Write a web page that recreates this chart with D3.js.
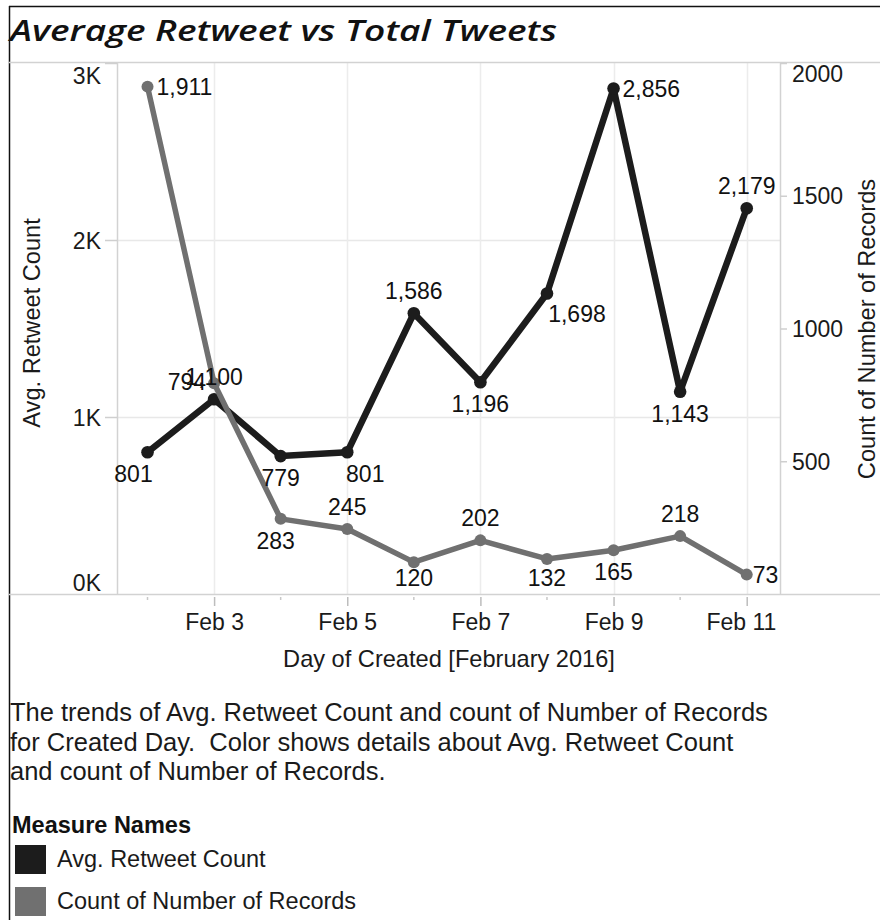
<!DOCTYPE html>
<html>
<head>
<meta charset="utf-8">
<script src="https://cdn.jsdelivr.net/npm/d3@7/dist/d3.min.js"></script>
<style>
  html, body { margin: 0; padding: 0; background: #fff; }
  svg { display: block; }
  text { font-family: "Liberation Sans", Arial, sans-serif; }
</style>
</head>
<body>
<svg id="chart" width="880" height="920"></svg>
<script>
// ---------- data ----------
const days = ["2016-02-02","2016-02-03","2016-02-04","2016-02-05","2016-02-06",
              "2016-02-07","2016-02-08","2016-02-09","2016-02-10","2016-02-11"];
const avgRetweet = [801, 1100, 779, 801, 1586, 1196, 1698, 2856, 1143, 2179];
const recordCount = [1911, 794, 283, 245, 120, 202, 132, 165, 218, 73];
const leftTicks = [0, 1000, 2000, 3000];
const rightTicks = [500, 1000, 1500, 2000];
const majorDays = ["2016-02-03","2016-02-05","2016-02-07","2016-02-09","2016-02-11"];
// label placement codes (one per point)
const avgLabelPlace = ["below-left","above","below","below-right","above","below","below-right-far","right","below","above"];
const countLabelPlace = ["right","left","below-left-small","above","below","above","below","below","above","right-near"];

// ---------- layout ----------
const svg = d3.select("#chart");
const pane = { left: 117, right: 780, top: 62, bottom: 594 };
const parse = d3.utcParse("%Y-%m-%d");
const dates = days.map(parse);

const x = d3.scaleUtc()
  .domain([new Date(Date.UTC(2016,1,1,13)), new Date(Date.UTC(2016,1,11,12))])
  .range([pane.left, pane.right]);
const yL = d3.scaleLinear().domain([0, 3000]).range([pane.bottom, 63]);
const yR = d3.scaleLinear().domain([0, 2000]).range([pane.bottom, 63]);

const BLACK = "#1c1c1c", GRAY = "#707070", TXT = "#1a1a1a";
const FS = 23;

// outer border
svg.append("line").attr("x1", 9).attr("x2", 880).attr("y1", 6.5).attr("y2", 6.5)
  .attr("stroke", "#111").attr("stroke-width", 1.5);
svg.append("line").attr("x1", 9.5).attr("x2", 9.5).attr("y1", 6).attr("y2", 920)
  .attr("stroke", "#111").attr("stroke-width", 1.5);

// title
svg.append("text").attr("x", 10).attr("y", 41)
  .style("font-family", "'Open Sans', Lato, sans-serif")
  .attr("font-size", 29).attr("font-weight", 600).attr("font-style", "italic")
  .attr("fill", "#111")
  .attr("textLength", 547).attr("lengthAdjust", "spacingAndGlyphs")
  .text("Average Retweet vs Total Tweets");

// gridlines
const grid = svg.append("g");
grid.selectAll(".hg").data([1000, 2000]).join("line")
  .attr("x1", pane.left).attr("x2", pane.right)
  .attr("y1", d => Math.round(yL(d)) + 0.5).attr("y2", d => Math.round(yL(d)) + 0.5)
  .attr("stroke", "#e8e8e8").attr("stroke-width", 1.5);
grid.selectAll(".vg").data(majorDays.map(parse)).join("line")
  .attr("x1", d => Math.round(x(d)) + 0.5).attr("x2", d => Math.round(x(d)) + 0.5)
  .attr("y1", pane.top).attr("y2", pane.bottom)
  .attr("stroke", "#ececec").attr("stroke-width", 1.5);

// pane borders
const bc = "#d2d2d2";
svg.append("line").attr("x1", 9).attr("x2", 880).attr("y1", pane.top + 0.5).attr("y2", pane.top + 0.5).attr("stroke", bc).attr("stroke-width", 1.5);
svg.append("line").attr("x1", 9).attr("x2", 880).attr("y1", pane.bottom + 0.5).attr("y2", pane.bottom + 0.5).attr("stroke", bc).attr("stroke-width", 1.5);
svg.append("line").attr("x1", pane.left + 0.5).attr("x2", pane.left + 0.5).attr("y1", pane.top).attr("y2", pane.bottom).attr("stroke", bc).attr("stroke-width", 1.5);
svg.append("line").attr("x1", pane.right + 0.5).attr("x2", pane.right + 0.5).attr("y1", pane.top).attr("y2", pane.bottom).attr("stroke", bc).attr("stroke-width", 1.5);

// left axis
const gL = svg.append("g").attr("transform", `translate(${pane.left},0)`)
  .call(d3.axisLeft(yL).tickValues(leftTicks).tickSize(12).tickPadding(4)
        .tickFormat(d => (d / 1000) + "K"));
gL.select(".domain").remove();
gL.selectAll(".tick line").attr("stroke", "#cfcfcf").attr("stroke-width", 1.5)
  .filter(d => d === 0).remove();
gL.selectAll(".tick text").attr("font-size", FS).attr("fill", TXT)
  .attr("font-family", null)
  .attr("dy", d => d === 3000 ? "0.9em" : d === 0 ? "-0.15em" : "0.35em");

// right axis
const gR = svg.append("g").attr("transform", `translate(${pane.right},0)`)
  .call(d3.axisRight(yR).tickValues(rightTicks).tickSize(7).tickPadding(5)
        .tickFormat(d3.format("d")));
gR.select(".domain").remove();
gR.selectAll(".tick line").attr("stroke", "#cfcfcf").attr("stroke-width", 1.5);
gR.selectAll(".tick text").attr("font-size", FS).attr("fill", TXT)
  .attr("font-family", null)
  .attr("dy", d => d === 2000 ? "0.8em" : "0.35em");

// bottom axis
const gB = svg.append("g").attr("transform", `translate(0,${pane.bottom + 3})`)
  .call(d3.axisBottom(x).tickValues(majorDays.map(parse)).tickSize(9).tickPadding(8)
        .tickFormat(d3.utcFormat("%b %-d")));
gB.select(".domain").remove();
gB.selectAll(".tick line").attr("stroke", "#bdbdbd").attr("stroke-width", 1.5);
gB.selectAll(".tick text").attr("font-size", FS).attr("fill", TXT).attr("font-family", null)
  .attr("dx", (d, i, n) => i === n.length - 1 ? "-0.25em" : 0);
// minor (daily) ticks
svg.append("g").selectAll("line").data(dates.filter(d => !majorDays.includes(d3.utcFormat("%Y-%m-%d")(d))))
  .join("line")
  .attr("x1", d => x(d)).attr("x2", d => x(d))
  .attr("y1", pane.bottom + 3).attr("y2", pane.bottom + 6)
  .attr("stroke", "#c8c8c8").attr("stroke-width", 1.5);

// axis titles
const TFS = 23.6;
svg.append("text").attr("x", 449).attr("y", 667).attr("text-anchor", "middle")
  .attr("font-size", TFS).attr("fill", TXT).text("Day of Created [February 2016]");
svg.append("text").attr("transform", "translate(40,323) rotate(-90)").attr("text-anchor", "middle")
  .attr("font-size", TFS).attr("fill", TXT).text("Avg. Retweet Count");
svg.append("text").attr("transform", "translate(875,329) rotate(-90)").attr("text-anchor", "middle")
  .attr("font-size", TFS).attr("fill", TXT).text("Count of Number of Records");

// lines
const lineAvg = d3.line().x((d, i) => x(dates[i])).y(d => yL(d));
const lineCnt = d3.line().x((d, i) => x(dates[i])).y(d => yR(d));

svg.append("path").datum(avgRetweet).attr("d", lineAvg)
  .attr("fill", "none").attr("stroke", BLACK).attr("stroke-width", 6.5)
  .attr("stroke-linejoin", "round").attr("stroke-linecap", "round");
svg.append("g").selectAll("circle").data(avgRetweet).join("circle")
  .attr("cx", (d, i) => x(dates[i])).attr("cy", d => yL(d)).attr("r", 6.3).attr("fill", BLACK);

svg.append("path").datum(recordCount).attr("d", lineCnt)
  .attr("fill", "none").attr("stroke", GRAY).attr("stroke-width", 5.5)
  .attr("stroke-linejoin", "round").attr("stroke-linecap", "round");
svg.append("g").selectAll("circle").data(recordCount).join("circle")
  .attr("cx", (d, i) => x(dates[i])).attr("cy", d => yR(d)).attr("r", 6).attr("fill", GRAY);

// labels
const offsets = {
  "above":            { dx: 0,   dy: -22, anchor: "middle" },
  "below":            { dx: 0,   dy: 22,  anchor: "middle" },
  "below-left":       { dx: -14, dy: 22,  anchor: "middle" },
  "below-left-small": { dx: -5,  dy: 22,  anchor: "middle" },
  "below-right":      { dx: 18,  dy: 22,  anchor: "middle" },
  "below-right-far":  { dx: 30,  dy: 20,  anchor: "middle" },
  "right":            { dx: 9,   dy: 0,   anchor: "start" },
  "right-near":       { dx: 6,   dy: 0,   anchor: "start" },
  "left":             { dx: -8,  dy: -1,  anchor: "end" }
};
const fmt = d3.format(",");
function drawLabels(values, places, yScale) {
  svg.append("g").selectAll("text").data(values).join("text")
    .attr("x", (d, i) => x(dates[i]) + offsets[places[i]].dx)
    .attr("y", (d, i) => Math.min(yScale(d) + offsets[places[i]].dy, 578))
    .attr("dy", "0.35em")
    .attr("text-anchor", (d, i) => offsets[places[i]].anchor)
    .attr("font-size", FS).attr("fill", "#111")
    .text(d => fmt(d));
}
drawLabels(recordCount, countLabelPlace, yR);
drawLabels(avgRetweet, avgLabelPlace, yL);

// description
const desc = ["The trends of Avg. Retweet Count and count of Number of Records",
              "for Created Day.  Color shows details about Avg. Retweet Count",
              "and count of Number of Records."];
svg.append("g").selectAll("text").data(desc).join("text")
  .attr("x", 10).attr("y", (d, i) => 721 + i * 29.5)
  .attr("font-size", 25.5).attr("fill", TXT)
  .attr("xml:space", "preserve").style("white-space", "pre")
  .text(d => d);

// legend
svg.append("text").attr("x", 12).attr("y", 833).attr("font-size", 23.5)
  .attr("font-weight", "bold").attr("fill", "#111").text("Measure Names");
const legendItems = ["Avg. Retweet Count", "Count of Number of Records"];
const legendColors = [BLACK, GRAY];
const lg = svg.append("g");
lg.selectAll("rect").data(legendItems).join("rect")
  .attr("x", 15).attr("y", (d, i) => 845 + i * 42).attr("width", 31).attr("height", 29)
  .attr("fill", (d, i) => legendColors[i]);
lg.selectAll("text").data(legendItems).join("text")
  .attr("x", 57).attr("y", (d, i) => 859 + i * 42).attr("dy", "0.35em")
  .attr("font-size", 23.5).attr("fill", TXT).text(d => d);
</script>
</body>
</html>
